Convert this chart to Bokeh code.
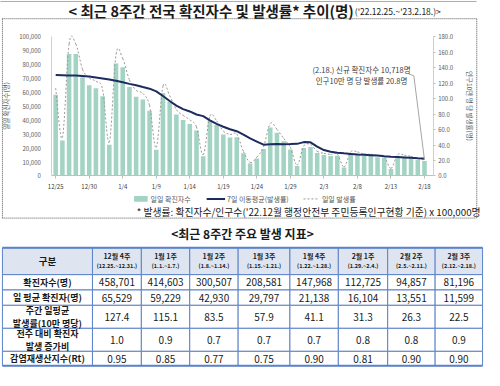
from bokeh.plotting import figure
from bokeh.models import (Range1d, LinearAxis, FixedTicker, NumeralTickFormatter, ColumnDataSource)
from bokeh.embed import file_html
from bokeh.resources import INLINE
from bokeh.core.properties import value

# ---------------- DATA ----------------
tick_labels = ["12/25", "12/30", "1/4", "1/9", "1/14", "1/19", "1/24",
               "1/29", "2/3", "2/8", "2/13", "2/18"]

daily_cases = [58400, 25500, 87800, 87800, 71000, 65200, 63000,
               57400, 22400, 80900, 78100, 63900, 57000, 54900,
               46900, 18900, 59600, 53400, 44100, 40300, 37300,
               32600, 14100, 39800, 36700, 29800, 27600, 27800,
               16300, 9000, 12500, 19400, 34900, 31000, 24900,
               19000, 7200, 20000, 20800, 16400, 15000, 14300,
               14500, 6000, 16000, 16000, 14500, 14400, 13500,
               13000, 5000, 14200, 13800, 13000, 11500, 10718]

daily_rate = [113.6, 49.6, 170.8, 170.8, 138.1, 126.8, 122.6,
              111.7, 43.6, 157.4, 151.9, 124.3, 110.9, 106.8,
              91.2, 36.8, 116.0, 103.9, 85.8, 78.4, 72.6,
              63.4, 27.4, 77.4, 71.4, 58.0, 53.7, 54.1,
              31.7, 17.5, 24.3, 37.7, 67.9, 60.3, 48.4,
              37.0, 14.0, 38.9, 40.5, 31.9, 29.2, 27.8,
              28.2, 11.7, 31.1, 31.1, 28.2, 28.0, 26.3,
              25.3, 9.7, 27.6, 26.8, 25.3, 22.4, 20.8]

ma7_rate = [130.7, 130.5, 130.2, 130.0, 129.3, 128.6, 127.4,
            126.2, 125.0, 123.3, 121.3, 119.2, 117.3, 115.1,
            113.0, 109.5, 103.5, 97.0, 91.0, 86.5, 83.5,
            79.5, 77.4, 72.0, 67.5, 63.7, 60.5, 57.9,
            53.5, 48.5, 44.5, 40.5, 41.0, 41.4, 41.1,
            41.2, 41.5, 43.8, 43.5, 38.0, 33.5, 31.3,
            30.0, 29.2, 28.5, 27.8, 27.3, 26.8, 26.3,
            25.5, 24.8, 24.4, 24.0, 23.4, 22.9, 22.5]

week_names = ["12월 4주", "1월 1주", "1월 2주", "1월 3주", "1월 4주", "2월 1주", "2월 2주", "2월 3주"]
week_ranges = ["(12.25.~12.31.)", "(1.1.~1.7.)", "(1.8.~1.14.)", "(1.15.~1.21.)",
               "(1.22.~1.28.)", "(1.29.~2.4.)", "(2.5.~2.11.)", "(2.12.~2.18.)"]
row_names = ["확진자수(명)", "일 평균 확진자(명)", "주간 일평균\n발생률(10만 명당)",
             "전주 대비 확진자\n발생 증가비", "감염재생산지수(Rt)"]
weekly_cases = [458701, 414603, 300507, 208581, 147968, 112725, 94857, 81196]
daily_avg = [65529, 59229, 42930, 29797, 21138, 16104, 13551, 11599]
weekly_rate = [127.4, 115.1, 83.5, 57.9, 41.1, 31.3, 26.3, 22.5]
week_ratio = [1.0, 0.9, 0.7, 0.7, 0.7, 0.8, 0.8, 0.9]
rt_values = [0.95, 0.85, 0.77, 0.75, 0.90, 0.81, 0.90, 0.90]

# ---------------- GEOMETRY (reference-pixel helpers) ----------------
KR = "Noto Sans CJK KR"
W, H = 484, 370
YMAX, RMAX = 100000, 180
days = list(range(len(daily_cases)))
# plot area in reference pixels: day0 at x=57, last day at x=438; value 0 at y=183, max at y=38
RX0, RX1, RY0, RY1 = 57.0, 438.0, 183.0, 38.0
DPX = (RX1 - RX0) / (days[-1] - days[0])


def X(rx):
    return days[0] + (rx - RX0) / DPX


def Y(ry):
    return (RY0 - ry) / (RY0 - RY1) * YMAX


def YR(ry):
    return (RY0 - ry) / (RY0 - RY1) * RMAX


p = figure(width=W, height=H, x_range=Range1d(X(0), X(500)), y_range=Range1d(Y(386), Y(0)),
           output_backend="svg", toolbar_location=None, min_border=0)
p.extra_y_ranges = {"rate": Range1d(YR(386), YR(0))}
p.outline_line_color = None
p.grid.visible = False
p.background_fill_color = "white"
p.border_fill_color = "white"

# ---- axes (fixed inside the canvas) ----
xa = p.xaxis[0]
xa.fixed_location = 0
xa.bounds = (X(53), X(447))
xa.ticker = FixedTicker(ticks=[days[0] + 5 * i for i in range(len(tick_labels))])
xa.major_label_overrides = {days[0] + 5 * i: t for i, t in enumerate(tick_labels)}
xa.minor_tick_line_color = None
xa.major_tick_in = 0
xa.major_tick_out = 3
xa.axis_line_color = "#bfbfbf"
xa.major_tick_line_color = "#bfbfbf"
xa.major_label_text_font_size = "6px"
xa.major_label_text_color = "#404040"
xa.major_label_text_font = KR
xa.major_label_standoff = 3

ya = p.yaxis[0]
ya.fixed_location = X(53)
ya.bounds = (0, YMAX)
ya.ticker = FixedTicker(ticks=list(range(0, YMAX + 1, 10000)))
ya.formatter = NumeralTickFormatter(format="0,0")
ya.minor_tick_line_color = None
ya.major_tick_line_color = None
ya.axis_line_color = "#d0d0d0"
ya.major_label_text_font_size = "6px"
ya.major_label_text_color = "#595959"
ya.major_label_text_font = KR
ya.major_label_standoff = 5
ya.axis_label = "일일 확진자수(명)"
ya.axis_label_text_font = KR
ya.axis_label_text_font_size = "6.5px"
ya.axis_label_text_font_style = "normal"
ya.axis_label_text_color = "#595959"
ya.axis_label_standoff = 5

ra = LinearAxis(y_range_name="rate", fixed_location=X(447), bounds=(0, RMAX),
                ticker=FixedTicker(ticks=list(range(0, RMAX + 1, 20))),
                formatter=NumeralTickFormatter(format="0.0"))
ra.minor_tick_line_color = None
ra.major_tick_in = 0
ra.major_tick_out = 2
ra.axis_line_color = "#d0d0d0"
ra.major_tick_line_color = "#bfbfbf"
ra.major_label_text_font_size = "6px"
ra.major_label_text_color = "#595959"
ra.major_label_text_font = KR
ra.major_label_standoff = 3
ra.axis_label = "인구10만 명 당 발생률(명)"
ra.axis_label_text_font = KR
ra.axis_label_text_font_size = "6.5px"
ra.axis_label_text_font_style = "normal"
ra.axis_label_text_color = "#595959"
ra.axis_label_standoff = 9
p.add_layout(ra, "right")

BAR = "#a3d4c3"
NAVY = "#1d2c5e"
DASH = "#9a9a9a"
TXT = "#1a1a1a"

# ---- series ----
p.vbar(x=days, top=daily_cases, width=0.68, fill_color=BAR, line_color=None)

n = len(days)
bz = dict(x0=[], y0=[], x1=[], y1=[], cx0=[], cy0=[], cx1=[], cy1=[])
for i in range(n - 1):
    im, ip = max(i - 1, 0), min(i + 2, n - 1)
    bz["x0"].append(days[i]); bz["y0"].append(daily_rate[i])
    bz["x1"].append(days[i + 1]); bz["y1"].append(daily_rate[i + 1])
    bz["cx0"].append(days[i] + (days[i + 1] - days[im]) / 6.0)
    bz["cy0"].append(daily_rate[i] + (daily_rate[i + 1] - daily_rate[im]) / 6.0)
    bz["cx1"].append(days[i + 1] - (days[ip] - days[i]) / 6.0)
    bz["cy1"].append(daily_rate[i + 1] - (daily_rate[ip] - daily_rate[i]) / 6.0)
p.bezier(x0="x0", y0="y0", x1="x1", y1="y1", cx0="cx0", cy0="cy0", cx1="cx1", cy1="cy1",
         source=ColumnDataSource(bz), y_range_name="rate",
         line_color=DASH, line_width=1, line_dash="2 2")

p.line(days, ma7_rate, y_range_name="rate", line_color=NAVY, line_width=2)

# ---- annotation with leader line ----
p.line(x=[X(421.5), X(427), days[-1]], y=[YR(76.5), YR(78.5), daily_rate[-1]],
       y_range_name="rate", line_color="#a6a6a6", line_width=1)
p.text(x=[X(373), X(373)], y=[Y(72), Y(83)],
       text=["(2.18.) 신규 확진자수 10,718명", "인구10만 명 당 발생률 20.8명"],
       text_align="center", text_baseline="middle", text_font=value(KR),
       text_font_size="7.5px", text_color="#404040")

# ---- title ----
p.text(x=[X(365)], y=[Y(10)], text=["< 최근 8주간 전국 확진자수 및 발생률* 추이(명)"],
       text_align="right", text_baseline="middle", text_font=value(KR),
       text_font_size="14.5px", text_font_style="bold", text_color=TXT)
p.text(x=[X(366)], y=[Y(10.5)], text=["('22.12.25.~'23.2.18.)>"],
       text_align="left", text_baseline="middle", text_font=value(KR),
       text_font_size="8.5px", text_color=TXT)

# ---- legend ----
p.quad(left=[X(138)], right=[X(152)], top=[Y(204)], bottom=[Y(210)], fill_color=BAR, line_color=None)
p.segment(x0=[X(213)], y0=[Y(207)], x1=[X(232)], y1=[Y(207)], line_color=NAVY, line_width=2)
p.segment(x0=[X(313)], y0=[Y(207)], x1=[X(329)], y1=[Y(207)], line_color=DASH, line_width=1,
          line_dash="2 2")
p.text(x=[X(155), X(234), X(332)], y=[Y(207)] * 3,
       text=["일일 확진자수", "7일 이동평균(발생률)", "일일 발생률"],
       text_align="left", text_baseline="middle", text_font=value(KR),
       text_font_size="7px", text_color="#595959")

# ---- footnote ----
p.text(x=[X(496)], y=[Y(221)],
       text=["* 발생률: 확진자수/인구수('22.12월 행정안전부 주민등록인구현황 기준) x 100,000명"],
       text_align="right", text_baseline="middle", text_font=value(KR),
       text_font_size="9.8px", text_color=TXT)

# ---- dotted frame ----
bx0 = [0, 2, 2, 492, 2]
by0 = [1, 19, 19, 19, 227]
bx1 = [492, 492, 2, 492, 492]
by1 = [1, 19, 227, 227, 227]
p.segment(x0=[X(v) for v in bx0], y0=[Y(v) for v in by0], x1=[X(v) for v in bx1],
          y1=[Y(v) for v in by1], line_color="#555555", line_width=1, line_dash="1 1")

# ---------------- TABLE ----------------
p.text(x=[X(250)], y=[Y(243.5)], text=["<최근 8주간 주요 발생 지표>"], text_align="center",
       text_baseline="middle", text_font=value(KR), text_font_size="12px",
       text_font_style="bold", text_color=TXT)

cols = [2, 95, 145.5, 195.5, 245.5, 299, 349, 400, 449, 498]
rows = [258, 286, 302, 318, 342, 366, 381]
GRID = "#5b83c9"
HEAD = "#dfe5f0"

lefts, rights, tops, bottoms, fills = [], [], [], [], []
for r in range(len(rows) - 1):
    for c in range(len(cols) - 1):
        lefts.append(X(cols[c])); rights.append(X(cols[c + 1]))
        tops.append(Y(rows[r])); bottoms.append(Y(rows[r + 1]))
        fills.append(HEAD if r == 0 else "white")
p.quad(left=lefts, right=rights, top=tops, bottom=bottoms, fill_color=fills,
       line_color=GRID, line_width=1)
p.segment(x0=[X(cols[0])] * 2, y0=[Y(rows[0]), Y(rows[-1])], x1=[X(cols[-1])] * 2,
          y1=[Y(rows[0]), Y(rows[-1])], line_color=GRID, line_width=2)

cx = [X((cols[i] + cols[i + 1]) / 2) for i in range(len(cols) - 1)]
cyr = [(rows[i] + rows[i + 1]) / 2 for i in range(len(rows) - 1)]

p.text(x=[cx[0]], y=[Y(cyr[0])], text=["구분"], text_align="center", text_baseline="middle",
       text_font=value(KR), text_font_size="9.5px", text_font_style="bold", text_color=TXT)
p.text(x=cx[1:], y=[Y(cyr[0] - 5)] * 8, text=week_names, text_align="center",
       text_baseline="middle", text_font=value(KR), text_font_size="7px",
       text_font_style="bold", text_color=TXT)
p.text(x=cx[1:], y=[Y(cyr[0] + 5.5)] * 8, text=week_ranges, text_align="center",
       text_baseline="middle", text_font=value(KR), text_font_size="5.5px",
       text_font_style="bold", text_color=TXT)

p.text(x=[cx[0]] * 5, y=[Y(v) for v in cyr[1:]], text=row_names, text_align="center",
       text_baseline="middle", text_font=value(KR), text_font_size="9px",
       text_font_style="bold", text_color=TXT, text_line_height=1.0)

body = [[f"{v:,}" for v in weekly_cases], [f"{v:,}" for v in daily_avg],
        [f"{v:.1f}" for v in weekly_rate], [f"{v:.1f}" for v in week_ratio],
        [f"{v:.2f}" for v in rt_values]]
for r, vals in enumerate(body):
    p.text(x=cx[1:], y=[Y(cyr[r + 1])] * 8, text=vals, text_align="center",
           text_baseline="middle", text_font=value(KR), text_font_size="10px", text_color=TXT)

open("out.html", "w").write(file_html(p, INLINE))
